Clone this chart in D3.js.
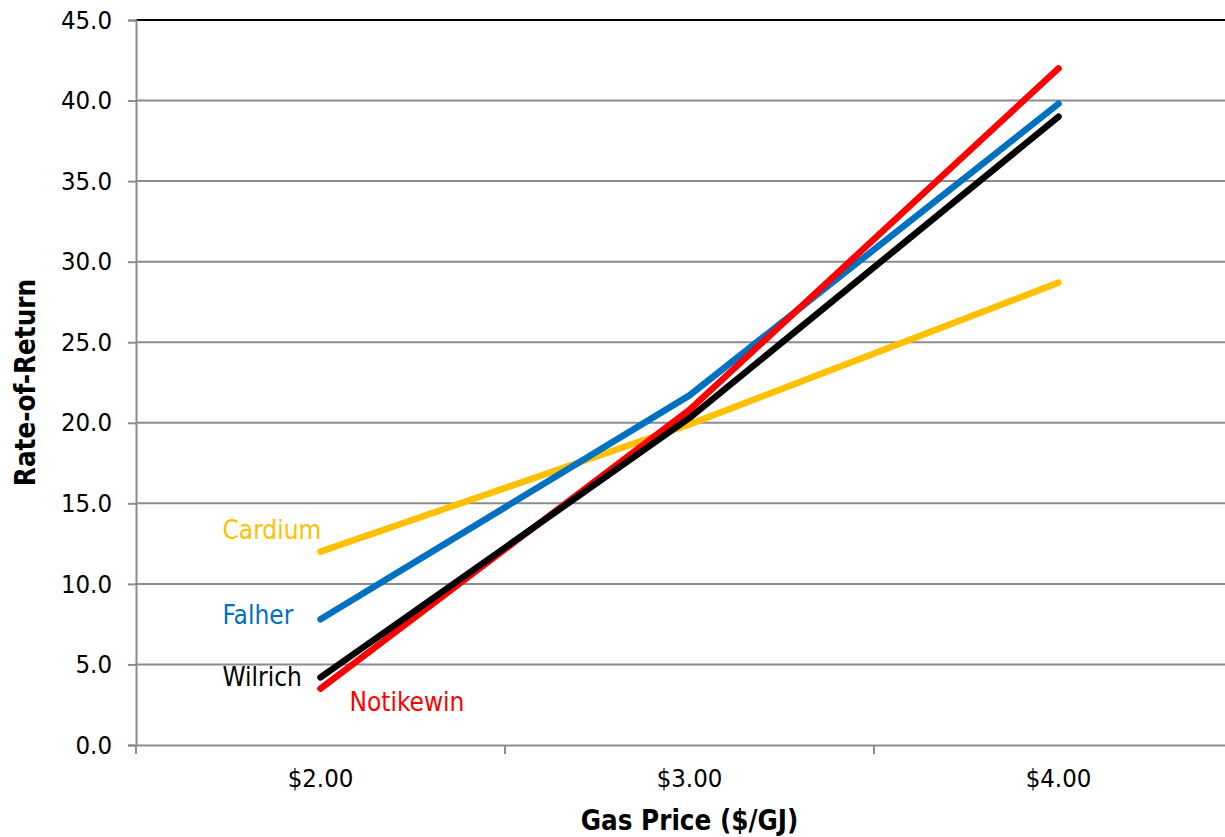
<!DOCTYPE html>
<html>
<head>
<meta charset="utf-8">
<script src="https://cdn.jsdelivr.net/npm/d3@7"></script>
<style>
  html, body { margin: 0; padding: 0; background: #fff; }
  svg { display: block; overflow: hidden; }
  text { font-family: "DejaVu Sans Condensed", "DejaVu Sans", sans-serif; font-stretch: condensed; }
</style>
</head>
<body>
<svg id="chart" width="1225" height="837"></svg>
<script>
// Gas price scenarios and rate-of-return by formation
const prices = ["$2.00", "$3.00", "$4.00"];
const formations = ["Cardium", "Falher", "Notikewin", "Wilrich"];
const cardium   = [12.0, 19.9, 28.7];
const falher    = [7.8, 21.7, 39.8];
const notikewin = [3.5, 20.8, 42.0];
const wilrich   = [4.2, 20.3, 39.0];
const yTicks = [0, 5, 10, 15, 20, 25, 30, 35, 40, 45];

const colors = { Cardium: "#FFC000", Falher: "#0070C0", Notikewin: "#FF0000", Wilrich: "#000000" };
const values = { Cardium: cardium, Falher: falher, Notikewin: notikewin, Wilrich: wilrich };

// label placement relative to the first point of each line
const labelPos = {
  Cardium:   { dx: -98, dy: -13 },
  Falher:    { dx: -98, dy: 5 },
  Wilrich:   { dx: -98, dy: 9 },
  Notikewin: { dx: 29,  dy: 22 }
};

const svg = d3.select("#chart");
const plotLeft = 136, plotTop = 20, plotBottom = 745, band = 369;
const fontStack = "'DejaVu Sans Condensed', 'DejaVu Sans', sans-serif";

const x = d3.scaleBand().domain(prices).range([plotLeft, plotLeft + band * prices.length]).paddingInner(0).paddingOuter(0);
const y = d3.scaleLinear().domain([0, 45]).range([plotBottom, plotTop]);
const cx = d => x(d) + x.bandwidth() / 2;

// horizontal gridlines
svg.append("g").selectAll("line").data(yTicks.filter(t => t > 0)).join("line")
  .attr("x1", plotLeft).attr("x2", 1225)
  .attr("y1", d => y(d)).attr("y2", d => y(d))
  .attr("stroke", d => d === 45 ? "#000" : "#8c8c8c")
  .attr("stroke-width", 2);

// y axis
const yAxis = svg.append("g").attr("transform", `translate(${plotLeft},0)`)
  .call(d3.axisLeft(y).tickValues(yTicks).tickFormat(d3.format(".1f")).tickSize(8).tickPadding(16));
yAxis.select(".domain").attr("stroke", "#8c8c8c").attr("stroke-width", 2);
yAxis.selectAll(".tick line").attr("stroke", "#8c8c8c").attr("stroke-width", 2);
yAxis.selectAll(".tick text").attr("font-size", 25.5).attr("fill", "#000")
  .attr("font-family", fontStack);

// x axis
const xAxis = svg.append("g").attr("transform", `translate(0,${plotBottom})`)
  .call(d3.axisBottom(x).tickSize(0).tickPadding(24));
xAxis.select(".domain").attr("stroke", "#8c8c8c").attr("stroke-width", 2);
xAxis.selectAll(".tick text").attr("font-size", 25.5).attr("fill", "#000")
  .attr("font-family", fontStack);
// category boundary tick marks
svg.append("g").selectAll("line").data(prices).join("line")
  .attr("x1", d => x(d)).attr("x2", d => x(d))
  .attr("y1", plotBottom).attr("y2", plotBottom + 9)
  .attr("stroke", "#8c8c8c").attr("stroke-width", 2);

// axis titles
svg.append("text").attr("x", cx("$3.00")).attr("y", 830)
  .attr("text-anchor", "middle").attr("font-size", 27.5).attr("font-weight", "bold")
  .text("Gas Price ($/GJ)");
svg.append("text").attr("transform", `translate(35,${(plotTop + plotBottom) / 2}) rotate(-90)`)
  .attr("text-anchor", "middle").attr("font-size", 27.5).attr("font-weight", "bold")
  .text("Rate-of-Return");

// series lines
const line = d3.line().x((d, i) => cx(prices[i])).y(d => y(d));
formations.forEach(f => {
  svg.append("path").datum(values[f])
    .attr("d", line)
    .attr("fill", "none")
    .attr("stroke", colors[f])
    .attr("stroke-width", 6.5)
    .attr("stroke-linecap", "round")
    .attr("stroke-linejoin", "round");
});

// direct labels
formations.forEach(f => {
  svg.append("text")
    .attr("x", cx(prices[0]) + labelPos[f].dx)
    .attr("y", y(values[f][0]) + labelPos[f].dy)
    .attr("font-size", 26)
    .attr("fill", colors[f])
    .text(f);
});
</script>
</body>
</html>
